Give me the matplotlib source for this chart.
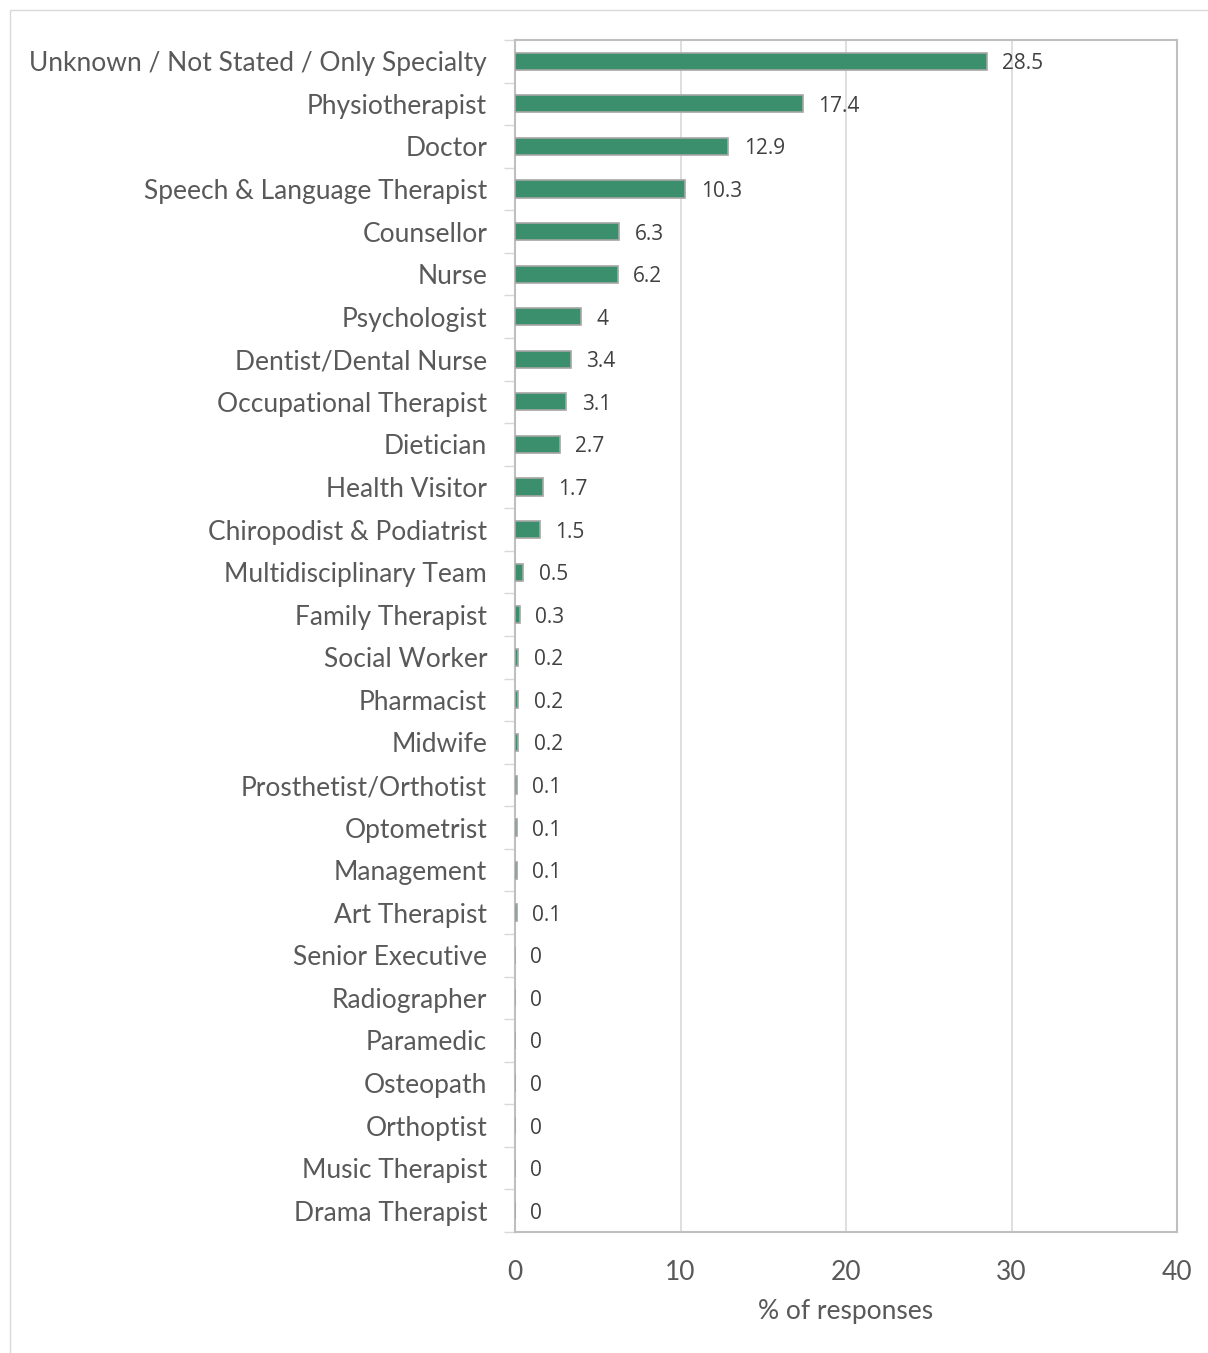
import matplotlib
matplotlib.use("Agg")
import matplotlib.pyplot as plt
from matplotlib.patches import Rectangle

categories = [
    "Unknown / Not Stated / Only Specialty", "Physiotherapist", "Doctor",
    "Speech & Language Therapist", "Counsellor", "Nurse", "Psychologist",
    "Dentist/Dental Nurse", "Occupational Therapist", "Dietician",
    "Health Visitor", "Chiropodist & Podiatrist", "Multidisciplinary Team",
    "Family Therapist", "Social Worker", "Pharmacist", "Midwife",
    "Prosthetist/Orthotist", "Optometrist", "Management", "Art Therapist",
    "Senior Executive", "Radiographer", "Paramedic", "Osteopath",
    "Orthoptist", "Music Therapist", "Drama Therapist",
]
values = [28.5, 17.4, 12.9, 10.3, 6.3, 6.2, 4, 3.4, 3.1, 2.7, 1.7, 1.5, 0.5,
          0.3, 0.2, 0.2, 0.2, 0.1, 0.1, 0.1, 0.1, 0, 0, 0, 0, 0, 0, 0]
value_labels = ["28.5", "17.4", "12.9", "10.3", "6.3", "6.2", "4", "3.4", "3.1",
                "2.7", "1.7", "1.5", "0.5", "0.3", "0.2", "0.2", "0.2", "0.1",
                "0.1", "0.1", "0.1", "0", "0", "0", "0", "0", "0", "0"]
x_ticks = [0, 10, 20, 30, 40]

plt.rcParams['font.family'] = ['Lato', 'DejaVu Sans']

W, H = 1208, 1353
fig = plt.figure(figsize=(W / 100, H / 100), dpi=100)
fig.patch.set_facecolor("white")
fig.patches.append(Rectangle((10 / W, -0.01), 1.02, 1 - 10 / H + 0.01,
                             transform=fig.transFigure, fill=False,
                             edgecolor="#D9D9D9", linewidth=1.0))

ax = fig.add_axes([515 / W, 1 - 1232 / H, (1177 - 515) / W, (1232 - 40) / H])
n = len(categories)
ypos = list(range(n))
ax.barh(ypos, values, height=0.4, color="#3C8F6C", edgecolor="#A6A6A6",
        linewidth=1.2, zorder=3)
ax.set_ylim(n - 0.5, -0.5)
ax.set_xlim(0, 40)

ax.set_yticks(ypos)
ax.set_yticklabels(categories, fontsize=19, color="#595959")
ax.set_yticks([i - 0.5 for i in range(n + 1)], minor=True)
ax.tick_params(axis="y", which="major", length=0, pad=20)
ax.tick_params(axis="y", which="minor", length=8, width=1, color="#D9D9D9")

ax.set_xticks(x_ticks)
ax.set_xticklabels([str(t) for t in x_ticks], fontsize=19, color="#595959")
ax.tick_params(axis="x", length=0, pad=20)
ax.set_xlabel("% of responses", fontsize=19, color="#595959", labelpad=10)

ax.grid(axis="x", color="#D9D9D9", linewidth=1.2, zorder=0)
for s in ax.spines.values():
    s.set_color("#BFBFBF")
    s.set_linewidth(1.5)

for y, v, lab in zip(ypos, values, value_labels):
    ax.annotate(lab, xy=(v, y), xytext=(11, 0), textcoords="offset points",
                ha="left", va="center_baseline", fontsize=15, color="#404040",
                family=["Open Sans", "DejaVu Sans"])

fig.savefig("out.png", dpi=100, facecolor="white")
